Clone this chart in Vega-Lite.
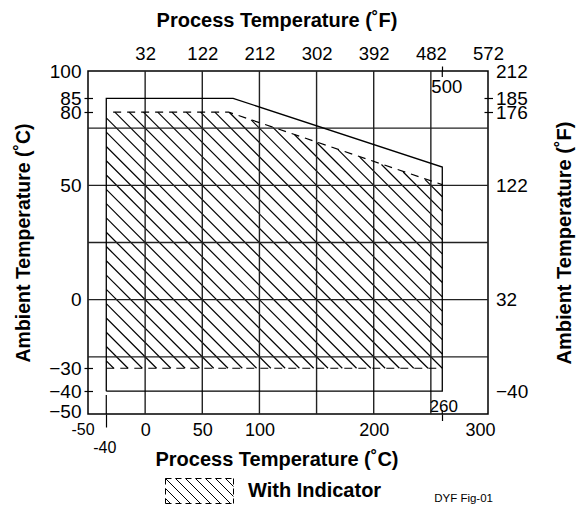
{
  "$schema": "https://vega.github.io/schema/vega-lite/v6.json",
  "width": 400,
  "height": 343,
  "autosize": {"type": "none"},
  "padding": {"left": 88, "top": 71, "right": 88, "bottom": 91},
  "config": {
    "view": {"stroke": "#000", "strokeWidth": 1.5},
    "font": "Liberation Sans",
    "axis": {
      "labelFont": "Liberation Sans",
      "titleFont": "Liberation Sans",
      "labelColor": "#000",
      "titleColor": "#000",
      "domain": false,
      "grid": false,
      "tickColor": "#000",
      "tickWidth": 1.2,
      "titleFontWeight": "bold",
      "labelOverlap": false,
      "labelBound": false
    }
  },
  "title": {
    "text": "DYF Fig-01",
    "orient": "bottom",
    "anchor": "end",
    "frame": "group",
    "fontSize": 11.5,
    "fontWeight": "normal",
    "color": "#000",
    "font": "Liberation Sans",
    "dx": 5,
    "dy": -13,
    "offset": 0
  },
  "datasets": {
    "hatch": [
      {"xa": -34, "ya": -26.75, "xb": -27.5, "yb": -30, "series": "With Indicator"},
      {"xa": -34, "ya": -20.5, "xb": -15, "yb": -30, "series": "With Indicator"},
      {"xa": -34, "ya": -14.25, "xb": -2.5, "yb": -30, "series": "With Indicator"},
      {"xa": -34, "ya": -8, "xb": 10, "yb": -30, "series": "With Indicator"},
      {"xa": -34, "ya": -1.75, "xb": 22.5, "yb": -30, "series": "With Indicator"},
      {"xa": -34, "ya": 4.5, "xb": 35, "yb": -30, "series": "With Indicator"},
      {"xa": -34, "ya": 10.75, "xb": 47.5, "yb": -30, "series": "With Indicator"},
      {"xa": -34, "ya": 17, "xb": 60, "yb": -30, "series": "With Indicator"},
      {"xa": -34, "ya": 23.25, "xb": 72.5, "yb": -30, "series": "With Indicator"},
      {"xa": -34, "ya": 29.5, "xb": 85, "yb": -30, "series": "With Indicator"},
      {"xa": -34, "ya": 35.75, "xb": 97.5, "yb": -30, "series": "With Indicator"},
      {"xa": -34, "ya": 42, "xb": 110, "yb": -30, "series": "With Indicator"},
      {"xa": -34, "ya": 48.25, "xb": 122.5, "yb": -30, "series": "With Indicator"},
      {"xa": -34, "ya": 54.5, "xb": 135, "yb": -30, "series": "With Indicator"},
      {"xa": -34, "ya": 60.75, "xb": 147.5, "yb": -30, "series": "With Indicator"},
      {"xa": -34, "ya": 67, "xb": 160, "yb": -30, "series": "With Indicator"},
      {"xa": -34, "ya": 73.25, "xb": 172.5, "yb": -30, "series": "With Indicator"},
      {"xa": -34, "ya": 79.5, "xb": 185, "yb": -30, "series": "With Indicator"},
      {"xa": -26.5, "ya": 82, "xb": 197.5, "yb": -30, "series": "With Indicator"},
      {"xa": -14, "ya": 82, "xb": 210, "yb": -30, "series": "With Indicator"},
      {"xa": -1.5, "ya": 82, "xb": 222.5, "yb": -30, "series": "With Indicator"},
      {"xa": 11, "ya": 82, "xb": 235, "yb": -30, "series": "With Indicator"},
      {"xa": 23.5, "ya": 82, "xb": 247.5, "yb": -30, "series": "With Indicator"},
      {"xa": 36, "ya": 82, "xb": 260, "yb": -30, "series": "With Indicator"},
      {"xa": 48.5, "ya": 82, "xb": 260, "yb": -23.75, "series": "With Indicator"},
      {"xa": 61, "ya": 82, "xb": 260, "yb": -17.5, "series": "With Indicator"},
      {"xa": 73.76, "ya": 81.87, "xb": 260, "yb": -11.25, "series": "With Indicator"},
      {"xa": 92.76, "ya": 78.62, "xb": 260, "yb": -5, "series": "With Indicator"},
      {"xa": 111.77, "ya": 75.37, "xb": 260, "yb": 1.25, "series": "With Indicator"},
      {"xa": 130.77, "ya": 72.11, "xb": 260, "yb": 7.5, "series": "With Indicator"},
      {"xa": 149.78, "ya": 68.86, "xb": 260, "yb": 13.75, "series": "With Indicator"},
      {"xa": 168.78, "ya": 65.61, "xb": 260, "yb": 20, "series": "With Indicator"},
      {"xa": 187.78, "ya": 62.36, "xb": 260, "yb": 26.25, "series": "With Indicator"},
      {"xa": 206.79, "ya": 59.11, "xb": 260, "yb": 32.5, "series": "With Indicator"},
      {"xa": 225.79, "ya": 55.85, "xb": 260, "yb": 38.75, "series": "With Indicator"},
      {"xa": 244.79, "ya": 52.6, "xb": 260, "yb": 45, "series": "With Indicator"}
    ],
    "gridx": [{"tc": 0}, {"tc": 50}, {"tc": 100}, {"tc": 150}, {"tc": 200}, {"tc": 250}],
    "gridy": [{"ta": 75}, {"ta": 50}, {"ta": 25}, {"ta": 0}, {"ta": -25}],
    "envelope": [
      {"tc": -34, "ta": -40, "o": 1},
      {"tc": -34, "ta": 88, "o": 2},
      {"tc": 77, "ta": 88, "o": 3},
      {"tc": 260, "ta": 58, "o": 4},
      {"tc": 260, "ta": -40, "o": 5},
      {"tc": -34, "ta": -40, "o": 6}
    ],
    "indicator": [
      {"tc": -28, "ta": 82, "seg": "top", "o": 1},
      {"tc": 73, "ta": 82, "seg": "top", "o": 2},
      {"tc": 260, "ta": 50.3, "seg": "top", "o": 3},
      {"tc": -34, "ta": -30, "seg": "bottom", "o": 1},
      {"tc": 260, "ta": -30, "seg": "bottom", "o": 2}
    ],
    "stubs": [
      {"tc": -34, "ta": -41.7, "ta2": -50},
      {"tc": 260, "ta": -48.3, "ta2": -50},
      {"tc": 260, "ta": 100, "ta2": 97.4}
    ]
  },
  "layer": [
    {
      "data": {"name": "hatch"},
      "mark": {"type": "rule", "strokeWidth": 1.2},
      "encoding": {
        "x": {
          "field": "xa", "type": "quantitative",
          "scale": {"domain": [-50, 300], "nice": false, "zero": false},
          "axis": {
            "orient": "bottom",
            "values": [-50, -34, 0, 50, 100, 200, 260, 300],
            "labelExpr": "datum.value == -34 ? '-40' : datum.value == -50 ? '-50' : datum.label",
            "labelFlush": false,
            "title": "Process Temperature (˚C)",
            "titleFontSize": 20,
            "titleX": 188.5,
            "titleY": 35,
            "labelFontSize": {"condition": [{"test": "datum.value == -50 || datum.value == -34", "value": 16}, {"test": "datum.value == 260", "value": 17}], "value": 18},
            "labelOffset": {"condition": [{"test": "datum.value == -50", "value": -5.5}, {"test": "datum.value == -34", "value": -2}, {"test": "datum.value == 300", "value": -8}, {"test": "datum.value == 260", "value": 1}], "value": 0},
            "labelPadding": {"condition": [{"test": "datum.value == -34", "value": 12.5}, {"test": "datum.value == 260", "value": -22}], "value": 7.7},
            "tickSize": {"condition": [{"test": "datum.value == -34", "value": 13}, {"test": "datum.value == 260", "value": 6.5}], "value": 0},
            "tickOpacity": {"condition": {"test": "datum.value == -34 || datum.value == 260", "value": 1}, "value": 0}
          }
        },
        "x2": {"field": "xb"},
        "y": {
          "field": "ya", "type": "quantitative",
          "scale": {"domain": [-50, 100], "nice": false, "zero": false},
          "axis": {
            "orient": "left",
            "values": [100, 88, 82, 50, 0, -30, -40, -50],
            "labelExpr": "datum.value == 88 ? '85' : datum.value == 82 ? '80' : datum.label",
            "labelFlush": false,
            "offset": -4.5,
            "tickSize": 8.5,
            "tickOpacity": {"condition": {"test": "datum.value == 88 || datum.value == 82 || datum.value == -30 || datum.value == -40", "value": 1}, "value": 0},
            "labelPadding": 3,
            "labelFontSize": 19,
            "labelOffset": {"condition": {"test": "datum.value == -50", "value": -3}, "value": 0},
            "title": "Ambient Temperature (˚C)",
            "titleFontSize": 19.5,
            "titlePadding": 15
          }
        },
        "y2": {"field": "yb"},
        "color": {
          "field": "series", "type": "nominal",
          "scale": {"range": ["#000"]},
          "legend": {
            "orient": "none",
            "legendX": 101,
            "legendY": 409.5,
            "title": null,
            "padding": 0,
            "symbolType": "M-3.4,0.75L-2.9,1.25M-3.4,-0.25L-1.9,1.25M-3.4,-1.25L-0.9,1.25M-2.4,-1.25L0.1,1.25M-1.4,-1.25L1.1,1.25M-0.4,-1.25L2.1,1.25M0.6,-1.25L3.1,1.25M1.6,-1.25L3.4,0.55M2.6,-1.25L3.4,-0.45M-3.4,-1.25L-2.8,-1.25M-2.4,-1.25L-1.8,-1.25M-1.4,-1.25L-0.8,-1.25M-0.4,-1.25L0.2,-1.25M0.6,-1.25L1.2,-1.25M1.6,-1.25L2.2,-1.25M2.6,-1.25L3.2,-1.25M-3.4,1.25L-2.8,1.25M-2.4,1.25L-1.8,1.25M-1.4,1.25L-0.8,1.25M-0.4,1.25L0.2,1.25M0.6,1.25L1.2,1.25M1.6,1.25L2.2,1.25M2.6,1.25L3.2,1.25M-3.4,-1.25L-3.4,-0.65M-3.4,-0.25L-3.4,0.35M-3.4,0.75L-3.4,1.25M3.4,-1.25L3.4,-0.65M3.4,-0.25L3.4,0.35M3.4,0.75L3.4,1.25",
            "symbolSize": 400,
            "symbolStrokeColor": "#000",
            "symbolFillColor": "transparent",
            "symbolStrokeWidth": 1,
            "labelFont": "Liberation Sans",
            "labelFontSize": 20,
            "labelFontWeight": "bold",
            "labelColor": "#000",
            "labelOffset": 38,
            "labelLimit": 300
          }
        }
      }
    },
    {
      "data": {"name": "gridx"},
      "mark": {"type": "rule", "color": "#222", "strokeWidth": 1.4},
      "encoding": {
        "x": {"field": "tc", "type": "quantitative", "scale": {"domain": [-50, 300], "nice": false, "zero": false}, "axis": null}
      }
    },
    {
      "data": {"name": "gridy"},
      "mark": {"type": "rule", "color": "#222", "strokeWidth": 1.4},
      "encoding": {
        "y": {"field": "ta", "type": "quantitative", "scale": {"domain": [-50, 100], "nice": false, "zero": false}, "axis": null}
      }
    },
    {
      "data": {"name": "indicator"},
      "mark": {"type": "line", "color": "#000", "strokeWidth": 1.2, "strokeDash": [8, 6]},
      "encoding": {
        "x": {"field": "tc", "type": "quantitative", "scale": {"domain": [-50, 300], "nice": false, "zero": false}, "axis": null},
        "y": {"field": "ta", "type": "quantitative", "scale": {"domain": [-50, 100], "nice": false, "zero": false}, "axis": null},
        "detail": {"field": "seg"},
        "order": {"field": "o", "type": "quantitative"}
      }
    },
    {
      "data": {"name": "envelope"},
      "mark": {"type": "line", "color": "#000", "strokeWidth": 1.3},
      "encoding": {
        "x": {
          "field": "tc", "type": "quantitative",
          "scale": {"domain": [-50, 300], "nice": false, "zero": false},
          "axis": {
            "orient": "top",
            "values": [0, 50, 100, 150, 200, 250, 300, 260],
            "labelExpr": "datum.value == 260 ? '500' : format(datum.value * 1.8 + 32, 'd')",
            "labelFlush": false,
            "tickSize": 5,
            "tickOpacity": {"condition": {"test": "datum.value == 260", "value": 1}, "value": 0},
            "labelPadding": {"condition": {"test": "datum.value == 260", "value": -30.8}, "value": 2.2},
            "labelOffset": {"condition": {"test": "datum.value == 260", "value": 4}, "value": 0},
            "labelFontSize": 18.5,
            "title": "Process Temperature (˚F)",
            "titleFontSize": 20,
            "titleX": 188.5,
            "titleY": -40.3
          }
        },
        "y": {
          "field": "ta", "type": "quantitative",
          "scale": {"domain": [-50, 100], "nice": false, "zero": false},
          "axis": {
            "orient": "right",
            "values": [100, 88, 82, 50, 0, -40],
            "labelExpr": "datum.value == 88 ? '185' : datum.value == 82 ? '176' : format(datum.value * 1.8 + 32, 'd')",
            "labelFlush": false,
            "offset": -4,
            "tickSize": 8.5,
            "tickOpacity": {"condition": {"test": "datum.value == 88 || datum.value == 82", "value": 1}, "value": 0},
            "labelPadding": 3,
            "labelFontSize": 19,
            "title": "Ambient Temperature (˚F)",
            "titleFontSize": 20,
            "titleAngle": -90,
            "titleBaseline": "top",
            "titlePadding": 27
          }
        },
        "order": {"field": "o", "type": "quantitative"}
      }
    },
    {
      "data": {"name": "stubs"},
      "mark": {"type": "rule", "color": "#000", "strokeWidth": 1.2},
      "encoding": {
        "x": {"field": "tc", "type": "quantitative", "scale": {"domain": [-50, 300], "nice": false, "zero": false}, "axis": null},
        "y": {"field": "ta", "type": "quantitative", "scale": {"domain": [-50, 100], "nice": false, "zero": false}, "axis": null},
        "y2": {"field": "ta2"}
      }
    }
  ],
  "resolve": {"axis": {"x": "independent", "y": "independent"}}
}
